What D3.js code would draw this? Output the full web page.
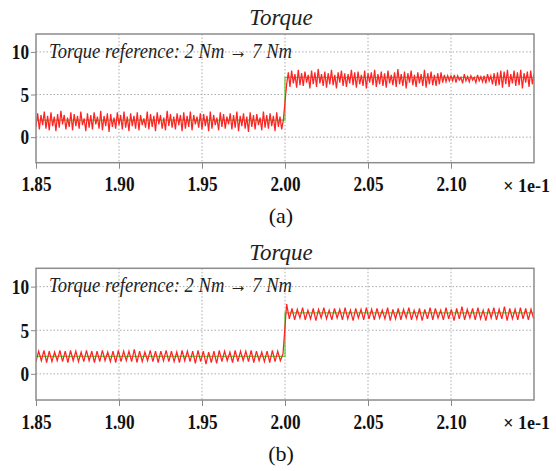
<!DOCTYPE html>
<html><head><meta charset="utf-8">
<script src="https://cdn.jsdelivr.net/npm/d3@7"></script>
<style>body{margin:0;background:#fff}</style>
</head><body><svg id="c" width="556" height="471"></svg>
<script>
// ---------- data ----------
const xTicks = [1.85, 1.90, 1.95, 2.00, 2.05, 2.10];
const xTickLabels = ["1.85", "1.90", "1.95", "2.00", "2.05", "2.10"];
const yTicks = [0, 5, 10];
const xDomain = [1.85, 2.15];
const yDomain = [-3, 12.1];
const titleText = "Torque";
const annotText = "Torque reference: 2 Nm \u2192 7 Nm";
const scaleText = "\u00d7 1e-1";
const captions = ["(a)", "(b)"];
const refTimes = [1.85, 2.00, 2.00, 2.15];
const refValues = [2, 2, 7, 7];

// panel (a) measured torque, sampled every 0.001 (x 1e-1 s)
const aPreStart = 1.850, aPostStart = 2.001, aStep = 0.001;
const aPre = [
1.2,2.8,0.9,2.6,1.4,3.0,1.0,2.5,0.8,2.9,
1.3,2.4,0.7,2.7,1.1,3.1,1.5,2.6,0.9,2.3,
1.2,2.9,0.8,2.7,1.3,2.5,1.0,3.0,1.4,2.2,
0.7,2.8,1.1,2.6,0.9,2.9,1.5,2.4,1.0,3.1,
0.8,2.5,1.3,2.8,0.6,2.7,1.2,2.3,1.0,2.9,
1.4,2.6,0.9,3.0,1.1,2.4,0.7,2.8,1.3,2.5,
1.0,2.9,0.8,2.6,1.4,2.2,1.1,3.0,0.9,2.7,
1.2,2.5,0.7,2.9,1.5,2.6,1.0,2.3,0.8,3.1,
1.3,2.7,1.1,2.4,0.9,2.8,1.4,2.6,0.7,2.9,
1.0,2.5,1.2,3.0,0.8,2.6,1.5,2.4,1.1,2.8,
0.9,2.7,1.3,2.5,0.7,3.0,1.0,2.6,1.4,2.3,
0.8,2.9,1.2,2.7,1.0,2.4,1.5,2.8,0.9,2.6,
1.1,3.0,0.7,2.5,1.3,2.8,1.0,2.4,0.6,2.9,
1.2,2.6,0.9,2.7,1.4,2.3,0.8,3.0,1.1,2.6,
1.0,2.8,1.3,2.5,0.7,2.9,1.2,2.4,0.9,2.0];
const aPost = [
6.2,7.6,5.9,7.8,6.3,7.4,5.8,7.9,6.1,7.5,
6.0,7.7,6.4,7.3,5.7,7.8,6.2,7.6,5.9,8.0,
6.3,7.4,6.0,7.7,5.8,7.5,6.2,7.9,6.1,7.3,
5.7,7.6,6.4,7.8,6.0,7.5,5.9,7.4,6.3,7.9,
6.1,7.6,5.8,7.7,6.2,7.3,6.0,7.8,5.7,7.5,
6.4,7.6,6.1,7.9,5.9,7.4,6.2,7.7,6.0,7.5,
5.8,7.8,6.3,7.3,6.1,7.6,5.9,8.0,6.2,7.4,
6.0,7.7,5.7,7.5,6.4,7.8,6.1,7.3,5.9,7.6,
6.3,7.4,6.0,7.9,5.8,7.5,6.2,7.7,6.1,7.3,
6.0,7.5,6.2,7.6,6.4,7.3,6.5,7.2,6.6,7.2,
6.6,7.3,6.4,7.2,6.7,7.0,6.3,7.4,6.6,7.1,
6.5,7.2,6.7,7.0,6.4,7.3,6.6,7.1,6.5,7.2,
6.3,7.4,6.6,7.2,6.2,7.5,6.0,7.6,6.1,7.8,
5.8,7.7,6.2,7.9,5.9,7.4,6.3,7.8,6.0,7.6,
6.1,7.9,5.7,7.5,6.4,7.7,5.9,7.8,6.2,7.4];

// panel (b) measured torque, sampled every 0.0016 (x 1e-1 s)
const bPreStart = 1.850, bPostStart = 2.001, bStep = 0.0016;
const bPre = [
1.4,2.6,1.5,2.7,1.3,2.6,1.4,2.5,1.5,2.7,
1.4,2.6,1.3,2.7,1.5,2.6,1.4,2.5,1.4,2.7,
1.5,2.6,1.3,2.6,1.4,2.7,1.5,2.5,1.4,2.6,
1.3,2.7,1.4,2.6,1.5,2.6,1.4,2.8,1.3,2.6,
1.4,2.5,1.5,2.7,1.4,2.6,1.3,2.6,1.5,2.7,
1.4,2.6,1.4,2.5,1.3,2.7,1.5,2.6,1.4,2.6,
1.2,2.7,1.4,2.6,1.1,2.5,1.3,2.6,1.2,2.7,
1.4,2.6,1.5,2.5,1.3,2.7,1.4,2.6,1.5,2.6,
1.4,2.7,1.3,2.6,1.5,2.5,1.4,2.6,1.3,2.7,
1.4,2.6,1.5,2.3];
const bPost = [
8.0,6.3,7.5,6.2,7.4,6.4,7.6,6.2,7.3,6.3,
7.5,6.1,7.4,6.4,7.6,6.3,7.3,6.2,7.5,6.4,
7.4,6.2,7.6,6.3,7.3,6.1,7.5,6.4,7.4,6.2,
7.6,6.3,7.4,6.2,7.5,6.4,7.3,6.3,7.6,6.1,
7.4,6.3,7.5,6.2,7.4,6.4,7.6,6.2,7.3,6.3,
7.5,6.1,7.4,6.3,7.6,6.2,7.5,6.4,7.3,6.2,
7.6,6.3,7.4,6.1,7.5,6.3,7.7,6.2,7.4,6.4,
7.5,6.2,7.6,6.3,7.3,6.1,7.5,6.4,7.6,6.2,
7.4,6.3,7.7,6.1,7.5,6.3,7.4,6.2,7.6,6.3,
7.5,6.2,7.4,6.3];

// ---------- layout ----------
const panels = [
  {pre: aPre, post: aPost, preStart: aPreStart, postStart: aPostStart, step: aStep,
   top: 34, bottom: 162.7, titleY: 25, annotY: 58, tickLabelY: 191.5, captionY: 222.5, caption: captions[0]},
  {pre: bPre, post: bPost, preStart: bPreStart, postStart: bPostStart, step: bStep,
   top: 268.3, bottom: 400, titleY: 260, annotY: 292, tickLabelY: 428.5, captionY: 461, caption: captions[1]}
];
const left = 36, right = 534;
const svg = d3.select("#c");
const serif = "'Liberation Serif','Times New Roman',Times,serif";

function squeeze(sel, f) {
  sel.each(function() {
    const w = this.getComputedTextLength();
    d3.select(this).attr("textLength", w * f).attr("lengthAdjust", "spacingAndGlyphs");
  });
}

panels.forEach((p, pi) => {
  const x = d3.scaleLinear().domain(xDomain).range([left, right]);
  const y = d3.scaleLinear().domain(yDomain).range([p.bottom, p.top]);
  const g = svg.append("g");

  // title
  g.append("text").attr("x", 281).attr("y", p.titleY).attr("text-anchor", "middle")
    .attr("font-family", serif).attr("font-style", "italic").attr("font-size", 23)
    .attr("fill", "#222").text(titleText);

  // grid
  g.append("g").selectAll("line").data(yTicks).join("line")
    .attr("x1", left).attr("x2", right).attr("y1", d => y(d)).attr("y2", d => y(d))
    .attr("stroke", "#aaa").attr("stroke-width", 1).attr("stroke-dasharray", "1.5,2");
  g.append("g").selectAll("line").data(xTicks.slice(1)).join("line")
    .attr("y1", p.top).attr("y2", p.bottom).attr("x1", d => x(d)).attr("x2", d => x(d))
    .attr("stroke", "#aaa").attr("stroke-width", 1).attr("stroke-dasharray", "1.5,2");

  // axes
  const xa = g.append("g").attr("transform", `translate(0,${p.bottom})`)
    .call(d3.axisBottom(x).tickValues(xTicks).tickFormat((d, i) => xTickLabels[i]).tickSize(6).tickSizeOuter(0).tickPadding(6));
  xa.select(".domain").remove();
  xa.selectAll("line").attr("stroke", "#888");
  xa.selectAll("text").attr("font-family", serif).attr("font-weight", "bold").attr("font-size", 20)
    .attr("fill", "#111").attr("dy", null).attr("y", p.tickLabelY - p.bottom);
  squeeze(xa.selectAll("text"), 0.86);

  const ya = g.append("g").attr("transform", `translate(${left},0)`)
    .call(d3.axisLeft(y).tickValues(yTicks).tickSize(5).tickSizeOuter(0).tickPadding(2));
  ya.select(".domain").remove();
  ya.selectAll("line").attr("stroke", "#888");
  ya.selectAll("text").attr("font-family", serif).attr("font-weight", "bold").attr("font-size", 20)
    .attr("fill", "#111").attr("dy", "0.34em");
  squeeze(ya.selectAll("text"), 0.86);

  g.append("text").attr("x", 550).attr("y", p.tickLabelY).attr("text-anchor", "end")
    .attr("font-family", serif).attr("font-weight", "bold").attr("font-size", 18).attr("fill", "#111")
    .text(scaleText);

  // clip
  const cid = "clip" + pi;
  g.append("clipPath").attr("id", cid).append("rect")
    .attr("x", left).attr("y", p.top).attr("width", right - left).attr("height", p.bottom - p.top);

  const line = d3.line().x(d => x(d[0])).y(d => y(d[1]));
  const meas = p.pre.map((v, i) => [p.preStart + i * p.step, v])
    .concat(p.post.map((v, i) => [p.postStart + i * p.step, v]));

  const ref = refTimes.map((t, i) => [t, refValues[i]]);
  g.append("path").datum(ref).attr("clip-path", `url(#${cid})`)
    .attr("d", line).attr("fill", "none").attr("stroke", "#5cd43a")
    .attr("stroke-width", 1.3);

  g.append("path").datum(meas).attr("clip-path", `url(#${cid})`)
    .attr("d", line).attr("fill", "none").attr("stroke", "#ff2424")
    .attr("stroke-width", 1.25);

  // frame
  g.append("rect").attr("x", left).attr("y", p.top).attr("width", right - left)
    .attr("height", p.bottom - p.top).attr("fill", "none").attr("stroke", "#8c8c8c").attr("stroke-width", 1.5);

  // annotation
  g.append("text").attr("x", 49).attr("y", p.annotY)
    .attr("font-family", serif).attr("font-style", "italic").attr("font-size", 21)
    .attr("fill", "#222").attr("textLength", 243).attr("lengthAdjust", "spacingAndGlyphs")
    .text(annotText);

  // caption
  svg.append("text").attr("x", 281).attr("y", p.captionY).attr("text-anchor", "middle")
    .attr("font-family", serif).attr("font-size", 22).attr("fill", "#111").text(p.caption);
});
</script></body></html>
